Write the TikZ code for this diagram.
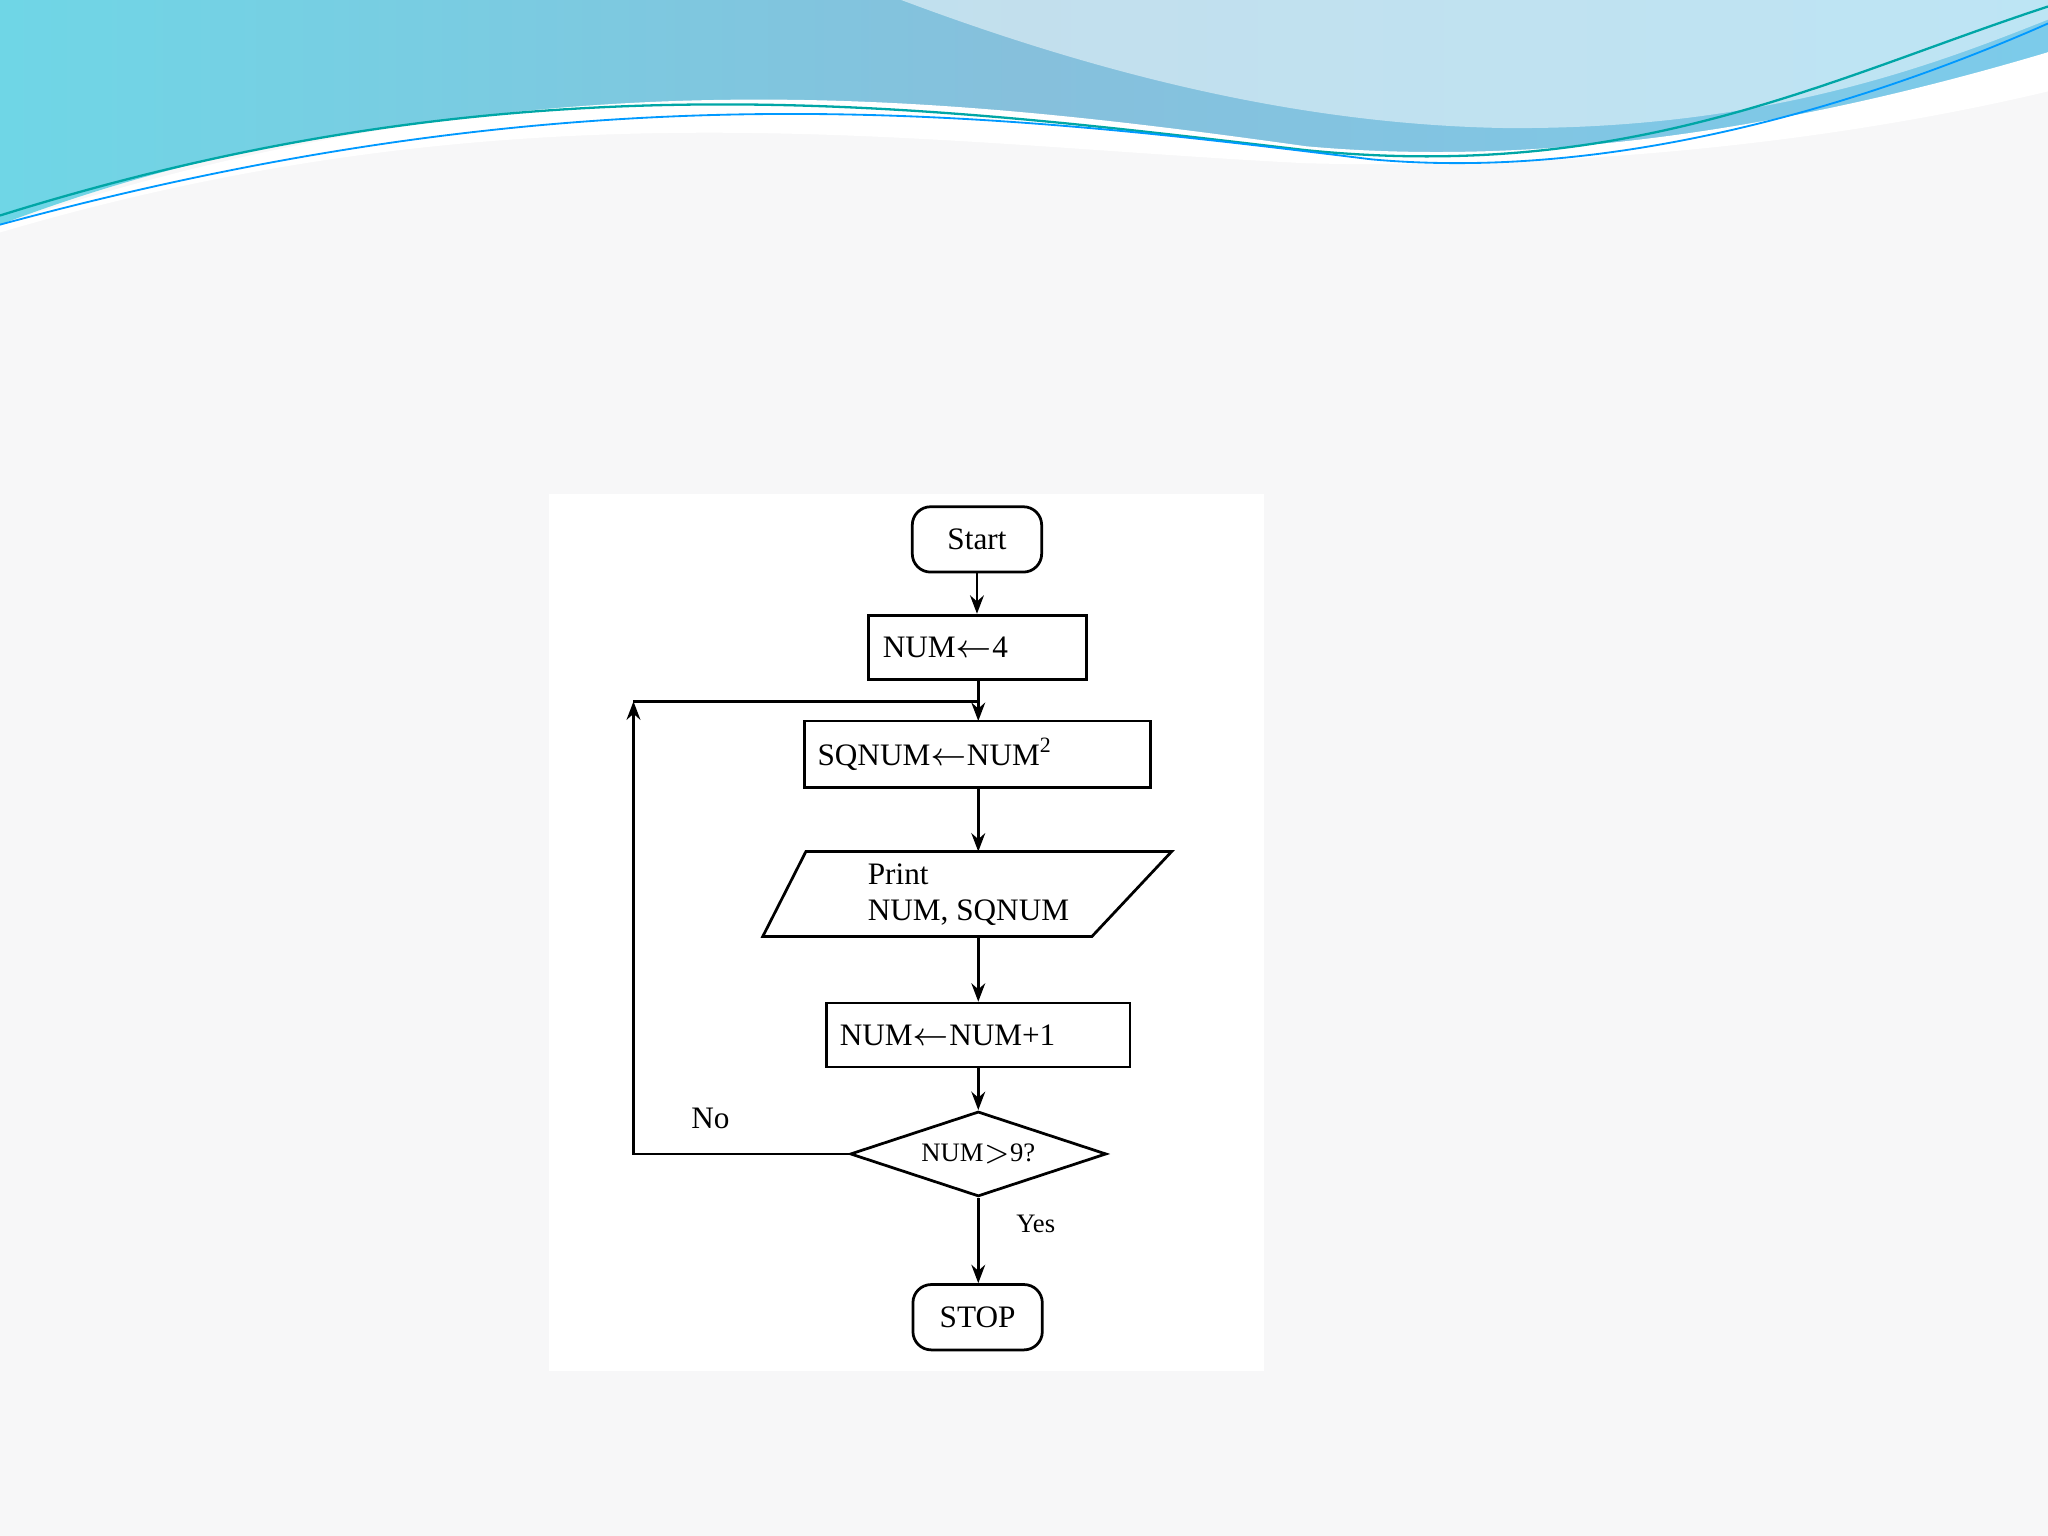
\documentclass[tikz,border=0pt]{standalone}
\usepackage{fontspec}
\setmainfont{Liberation Serif}
\usetikzlibrary{shapes.geometric,arrows.meta}
\definecolor{bg}{HTML}{F7F7F8}
\definecolor{wl}{HTML}{6FD6E6}
\definecolor{wm}{HTML}{86C0DC}
\definecolor{wr}{HTML}{7CCBEA}
\begin{document}
\begin{tikzpicture}[x=0.01cm,y=-0.01cm,
  box/.style={draw,line width=0.6pt,minimum height=0.49cm,font=\fontsize{6.8}{8}\selectfont,inner sep=2pt},
  term/.style={box,rounded corners=0.14cm,minimum width=0.99cm,minimum height=0.5cm},
  arr/.style={-{Stealth[length=4pt,width=3pt]},line width=0.6pt},
  lbl/.style={font=\fontsize{6.8}{8}\selectfont}]
\useasboundingbox (0,0) rectangle (1568,1176);
\fill[bg] (0,0) rectangle (1568,1176);
% wave
\shade[left color=wl,right color=wr,middle color=wm]
  (0,0) -- (1568,0) -- (1568,40) .. controls (1400,100) and (1250,118) .. (1050,118)
  .. controls (750,110) and (400,20) .. (0,172) -- cycle;
\fill[white,opacity=0.5] (690,0) .. controls (850,60) and (1000,95) .. (1150,98)
  .. controls (1350,100) and (1480,50) .. (1568,15) -- (1568,0) -- cycle;
\fill[white] (0,172) .. controls (400,40) and (700,70) .. (1000,112)
  .. controls (1200,130) and (1400,90) .. (1568,40) -- (1568,70)
  .. controls (1400,110) and (1200,130) .. (1000,125) .. controls (700,110) and (400,60) .. (0,178) -- cycle;
\draw[teal!70!cyan,line width=0.5pt] (0,165) .. controls (400,40) and (700,80) .. (1000,115) .. controls (1250,140) and (1400,60) .. (1568,5);
\draw[blue!40!cyan,line width=0.4pt] (0,172) .. controls (450,50) and (750,85) .. (1050,122) .. controls (1250,140) and (1450,70) .. (1568,18);
% panel
\fill[white] (420,378) rectangle (968,1050);
% nodes
\node[term] (start) at (748,413) {Start};
\node[box,minimum width=1.67cm,text width=1.45cm,align=left] (n4) at (748.5,495.5) {NUM$\leftarrow$4};
\node[box,minimum width=2.65cm,minimum height=0.51cm,text width=2.45cm,align=left] (sq) at (748.5,577.5) {SQNUM$\leftarrow$NUM\textsuperscript{2}};
\draw[line width=0.6pt] (617,652) -- (897,652) -- (836,717) -- (584,717) -- cycle;
\coordinate (prt) at (749,652);
\coordinate (prb) at (749,717);
\node[lbl,align=left,anchor=west] (prtext) at (652,685) {Print\\NUM, SQNUM};
\node[box,minimum width=2.32cm,text width=2.12cm,align=left] (inc) at (749,792.5) {NUM$\leftarrow$NUM+1};
\node[draw,line width=0.6pt,diamond,aspect=3,minimum width=1.96cm,minimum height=0.65cm,inner sep=0pt,font=\fontsize{5.8}{7}\selectfont] (dec) at (749,883.5) {NUM$>$9?};
\node[term] (stop) at (748.5,1008.5) {STOP};
\coordinate (c1) at (485,883.5);
\coordinate (c2) at (485,537);
\coordinate (c3) at (749,537);
\coordinate (sqt) at (749,552);
\node[lbl] at (544,856) {No};
\node[lbl,font=\fontsize{5.8}{7}\selectfont] at (793,937) {Yes};
% edges
\draw[arr] (start.south) -- (start.south |- n4.north);
\draw[arr] (n4.south -| sqt) -- (sqt);
\draw[arr] (sq.south -| prt) -- (prt);
\draw[arr] (prb) -- (inc.north);
\draw[arr] (inc.south) -- (dec.north);
\draw[arr] (dec.south) -- (dec.south |- stop.north);
\draw[arr] (dec.west) -- (c1) -- (c2);
\draw[line width=0.6pt] (c2) -- (c3);
\end{tikzpicture}
\end{document}
